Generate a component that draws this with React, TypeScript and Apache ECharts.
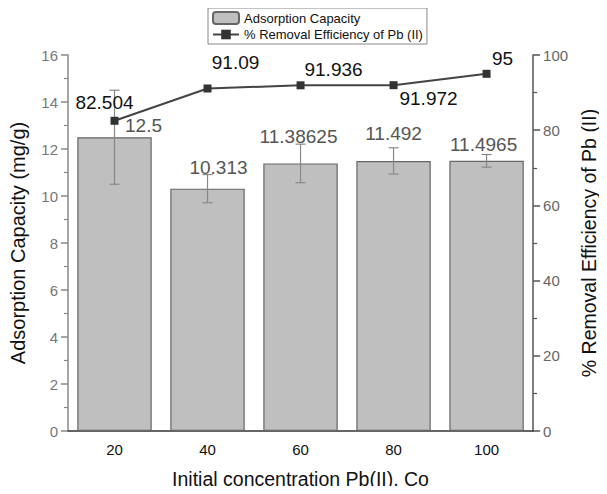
import React, { useEffect, useRef } from "react";
import * as echarts from "echarts";

const categories = ["20", "40", "60", "80", "100"];
const adsorption = [12.5, 10.313, 11.38625, 11.492, 11.4965];
const adsorptionErr = [2.0, 0.6, 0.82, 0.56, 0.27];
const removal = [82.504, 91.09, 91.936, 91.972, 95];
const leftTicks = { min: 0, max: 16, interval: 2 };
const rightTicks = { min: 0, max: 100, interval: 20 };

const barLabelOffsets = [[29, 3], [11, -7], [-2, -12], [0, -13], [-3, -2]];
const lineLabelPos = ["top", "top", "top", "bottom", "top"];
const lineLabelOffsets = [[-10, 0], [28, -8], [33, 3], [35, -5], [16, 3]];

const FONT = "'Liberation Sans', Arial, sans-serif";

export default function App() {
  const ref = useRef<HTMLDivElement>(null);
  useEffect(() => {
    const chart = echarts.init(ref.current!, null, { renderer: "svg" });
    chart.setOption({
      animation: false,
      textStyle: { fontFamily: FONT },
      legend: {
        orient: "vertical",
        left: 208,
        top: 8,
        width: 210,
        borderColor: "#888",
        borderWidth: 1,
        padding: [3, 4, 3, 4],
        itemGap: 3,
        itemWidth: 26,
        itemHeight: 12,
        textStyle: { fontSize: 13, color: "#111", fontFamily: FONT },
        data: ["Adsorption Capacity", "% Removal Efficiency of Pb (II)"],
      },
      grid: { left: 67, right: 64, top: 55, bottom: 59 },
      xAxis: [
        {
          type: "category",
          data: categories,
          position: "bottom",
          axisLine: { lineStyle: { color: "#333", width: 1.5 } },
          axisTick: { alignWithLabel: true, length: 7, lineStyle: { color: "#333", width: 1.5 } },
          axisLabel: { fontSize: 15, color: "#111", margin: 11, fontFamily: FONT },
          name: "Initial concentration Pb(II), Co",
          nameLocation: "middle",
          nameGap: 38,
          nameTextStyle: { fontSize: 19.5, color: "#111", fontFamily: FONT },
        },
        {
          type: "category",
          data: categories,
          position: "bottom",
          axisLine: { show: false },
          axisTick: { length: 4, lineStyle: { color: "#333", width: 1.2 } },
          axisLabel: { show: false },
        },
      ],
      yAxis: [
        {
          type: "value",
          ...leftTicks,
          position: "left",
          axisLine: { show: true, lineStyle: { color: "#888", width: 1.5 } },
          axisTick: { show: true, length: 7, lineStyle: { color: "#888", width: 1.5 } },
          minorTick: { show: true, splitNumber: 2, length: 4, lineStyle: { color: "#888", width: 1.2 } },
          splitLine: { show: false },
          axisLabel: { fontSize: 15, color: "#777", margin: 10, fontFamily: FONT },
          name: "Adsorption Capacity (mg/g)",
          nameLocation: "middle",
          nameGap: 40,
          nameTextStyle: { fontSize: 20, color: "#111", fontFamily: FONT },
        },
        {
          type: "value",
          ...rightTicks,
          position: "right",
          axisLine: { show: true, lineStyle: { color: "#555", width: 1.5 } },
          axisTick: { show: true, length: 7, lineStyle: { color: "#555", width: 1.5 } },
          minorTick: { show: true, splitNumber: 2, length: 4, lineStyle: { color: "#555", width: 1.2 } },
          splitLine: { show: false },
          axisLabel: { fontSize: 15, color: "#666", margin: 10, fontFamily: FONT },
          name: "% Removal Efficiency of Pb (II)",
          nameLocation: "middle",
          nameGap: 41,
          nameTextStyle: { fontSize: 19.5, color: "#111", fontFamily: FONT },
        },
      ],
      series: [
        {
          name: "Adsorption Capacity",
          type: "bar",
          xAxisIndex: 0,
          yAxisIndex: 0,
          barCategoryGap: "20%",
          itemStyle: { color: "#bfbfbf", borderColor: "#666", borderWidth: 1.2 },
          data: adsorption.map((v, i) => ({
            value: v,
            label: { offset: barLabelOffsets[i] },
          })),
          label: {
            show: true,
            position: "top",
            fontSize: 19,
            color: "#555",
            fontFamily: FONT,
            formatter: (p: any) => String(p.value),
          },
          z: 2,
        },
        {
          name: "errors",
          type: "custom",
          xAxisIndex: 0,
          yAxisIndex: 0,
          data: adsorption.map((v, i) => [i, v - adsorptionErr[i], v + adsorptionErr[i]]),
          renderItem: (params: any, api: any) => {
            const lo = api.coord([api.value(0), api.value(1)]);
            const hi = api.coord([api.value(0), api.value(2)]);
            const w = 5;
            const style = { stroke: "#888", lineWidth: 1.2 };
            return {
              type: "group",
              children: [
                { type: "line", shape: { x1: lo[0], y1: lo[1], x2: hi[0], y2: hi[1] }, style },
                { type: "line", shape: { x1: lo[0] - w, y1: lo[1], x2: lo[0] + w, y2: lo[1] }, style },
                { type: "line", shape: { x1: hi[0] - w, y1: hi[1], x2: hi[0] + w, y2: hi[1] }, style },
              ],
            };
          },
          z: 3,
        },
        {
          name: "% Removal Efficiency of Pb (II)",
          type: "line",
          xAxisIndex: 0,
          yAxisIndex: 1,
          symbol: "rect",
          symbolSize: 8,
          lineStyle: { color: "#444", width: 2 },
          itemStyle: { color: "#333" },
          data: removal.map((v, i) => ({
            value: v,
            label: { position: lineLabelPos[i], offset: lineLabelOffsets[i] },
          })),
          label: {
            show: true,
            fontSize: 19,
            color: "#111",
            fontFamily: FONT,
            formatter: (p: any) => String(p.value),
          },
          z: 5,
        },
      ],
    });
    return () => chart.dispose();
  }, []);
  return <div ref={ref} style={{ width: 607, height: 494, margin: -8 }} />;
}
